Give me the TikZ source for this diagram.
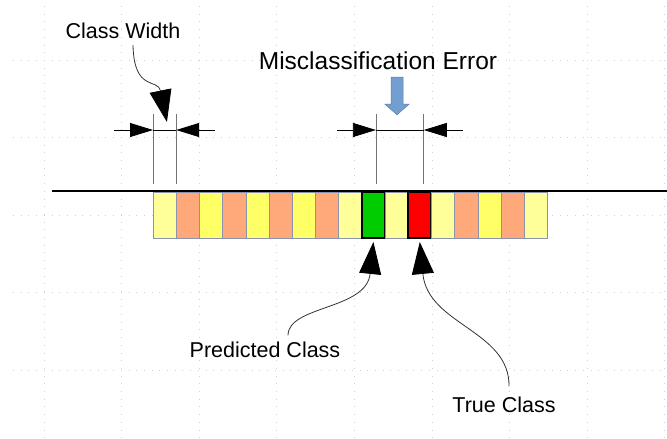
\documentclass[tikz,border=0pt]{standalone}
\usepackage{fontspec}
\setmainfont{Liberation Sans}
\usepackage{tikz}
\usetikzlibrary{arrows.meta, calc}

\definecolor{cellpale}{HTML}{FFFF99}
\definecolor{cellsalmon}{HTML}{FFA97A}
\definecolor{cellyellow}{HTML}{FFFF66}
\definecolor{cellgreen}{HTML}{00CC00}
\definecolor{cellred}{HTML}{FF0000}
\definecolor{celledge}{HTML}{8B93B0}
\definecolor{errblue}{HTML}{729FCF}

\begin{document}
\begin{tikzpicture}[
  x=1pt, y=-1pt,
  every node/.style={inner sep=0pt, outer sep=0pt},
  lbl/.style={font=\fontsize{21.5}{26}\selectfont, anchor=base},
  title/.style={font=\fontsize{24.5}{29}\selectfont, anchor=base},
  cell/.style={rectangle, fill=#1, minimum width=23.2pt, minimum height=46pt},
  edge/.style={draw=celledge, line width=0.4pt},
  hit/.style={draw=black, line width=2.2pt},
  gridline/.style={black!18, line width=0.7pt, dash pattern=on 1pt off 6.7pt},
  axis/.style={black, line width=2pt},
  extline/.style={black!55, line width=0.8pt},
  dimline/.style={black, line width=0.8pt},
  dimtip/.style={-{Triangle[length=23pt, width=14pt]}},
  leader/.style={black!80, line width=0.8pt,
    -{Triangle[length=32pt, width=22pt, color=black]}},
  errarrow/.style={fill=errblue, draw=errblue!80!black, line width=0.5pt}
]

\path[use as bounding box, fill=white] (0,0) rectangle (667,439);

%% ── GRID ─────────────────────────────────────────────────
\foreach \gx in {0,...,8}
  \draw[gridline] ({44+77.6*\gx},6) -- ({44+77.6*\gx},439);
\foreach \gy in {0,...,4}
  \draw[gridline] (13,{60+77.5*\gy}) -- (667,{60+77.5*\gy});

%% ── CLASS STRIP ──────────────────────────────────────────
\foreach \c/\b [count=\i] in {cellpale/edge, cellsalmon/edge, cellyellow/edge,
    cellsalmon/edge, cellyellow/edge, cellsalmon/edge, cellyellow/edge,
    cellsalmon/edge, cellpale/edge, cellgreen/hit, cellpale/edge,
    cellred/hit, cellpale/edge, cellsalmon/edge, cellyellow/edge,
    cellsalmon/edge, cellpale/edge}
  \node[cell=\c, \b] (c\i) at ({153+23.2*(\i-0.5)},215) {};

\coordinate (axisL) at (52,191);
\coordinate (axisR) at (667,191);
\draw[axis] (axisL) -- (axisR);

%% ── CLASS WIDTH ──────────────────────────────────────────
\coordinate (dimrow) at (0,130);
\coordinate (cwL) at (c1.north west |- dimrow);
\coordinate (cwR) at (c1.north east |- dimrow);

\draw[extline] (c1.north west) ++(0,-8) -- ++(0,-70);
\draw[extline] (c1.north east) ++(0,-8) -- ++(0,-70);

\draw[dimline] (cwL) -- (cwR);
\draw[dimline, dimtip] ($(cwL)+(-39,0)$) -- (cwL);
\draw[dimline, dimtip] ($(cwR)+(39,0)$)  -- (cwR);

\node[lbl] (cwtext) at (123,38) {Class Width};
\coordinate (cwtip) at ($(cwL)!0.6!(cwR)+(0,-8)$);
\draw[leader] ($(cwtext.south)+(10,7)$) .. controls +(1,47) and +(-9,-44) .. (cwtip);

%% ── MISCLASSIFICATION ERROR ──────────────────────────────
\coordinate (erL) at ($(c10.north |- dimrow)+(2.5,0)$);
\coordinate (erR) at ($(c12.north |- dimrow)+(4,0)$);

\draw[extline] ($(c10.north)+(2.5,-8)$) -- ++(0,-70);
\draw[extline] ($(c12.north)+(4,-8)$)   -- ++(0,-70);

\draw[dimline] (erL) -- (erR);
\draw[dimline, dimtip] ($(erL)+(-39,0)$) -- (erL);
\draw[dimline, dimtip] ($(erR)+(39,0)$)  -- (erR);

\node[title] (errtext) at (378,69.5) {Misclassification Error};
\draw[errarrow] ($(errtext.south)+(13,7.5)$) -- ++(12,0) -- ++(0,27) -- ++(6,0)
  -- ++(-12,10.5) -- ++(-12,-10.5) -- ++(6,0) -- cycle;

%% ── PREDICTED / TRUE ─────────────────────────────────────
\node[lbl] (predtext) at (265,357) {Predicted Class};
\node[lbl] (truetext) at (504,412) {True Class};

\draw[leader] ($(predtext.north)+(23,-6)$) .. controls +(0,-30) and +(-7,68) .. ($(c10.south)+(0,4)$);
\draw[leader] ($(truetext.north)+(5,-10)$) .. controls +(1,-56) and +(8,83) .. ($(c12.south)+(0,4)$);

\end{tikzpicture}
\end{document}
